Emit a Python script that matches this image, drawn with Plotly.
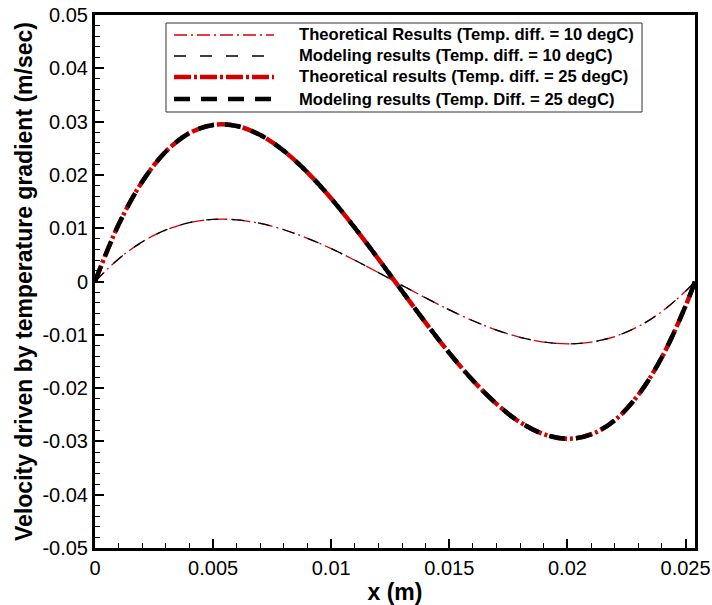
import plotly.graph_objects as go

# x positions (m)
x_vals = [0.0, 0.001, 0.002, 0.003, 0.004, 0.005, 0.006, 0.007, 0.008, 0.009,
          0.010, 0.011, 0.012, 0.013, 0.014, 0.015, 0.016, 0.017, 0.018, 0.019,
          0.020, 0.021, 0.022, 0.023, 0.024, 0.025, 0.0254]

# Temp diff = 10 degC
theory_10 = [0.0, 0.00424, 0.00743, 0.00967, 0.01105, 0.01165, 0.01157, 0.01089, 0.00971, 0.00810,
             0.00617, 0.00399, 0.00167, -0.00072, -0.00308, -0.00532, -0.00736, -0.00911, -0.01047, -0.01137,
             -0.01170, -0.01138, -0.01032, -0.00844, -0.00563, -0.00182, 0.0]
model_10 = [0.0, 0.00424, 0.00743, 0.00967, 0.01105, 0.01165, 0.01157, 0.01089, 0.00971, 0.00810,
            0.00617, 0.00399, 0.00167, -0.00072, -0.00308, -0.00532, -0.00736, -0.00911, -0.01047, -0.01137,
            -0.01170, -0.01138, -0.01032, -0.00844, -0.00563, -0.00182, 0.0]

# Temp diff = 25 degC
theory_25 = [0.0, 0.01068, 0.01873, 0.02439, 0.02786, 0.02938, 0.02918, 0.02747, 0.02448, 0.02043,
             0.01556, 0.01007, 0.00421, -0.00181, -0.00776, -0.01342, -0.01857, -0.02297, -0.02641, -0.02866,
             -0.02950, -0.02869, -0.02603, -0.02127, -0.01420, -0.00460, 0.0]
model_25 = [0.0, 0.01068, 0.01873, 0.02439, 0.02786, 0.02938, 0.02918, 0.02747, 0.02448, 0.02043,
            0.01556, 0.01007, 0.00421, -0.00181, -0.00776, -0.01342, -0.01857, -0.02297, -0.02641, -0.02866,
            -0.02950, -0.02869, -0.02603, -0.02127, -0.01420, -0.00460, 0.0]

series_names = ["Theoretical Results (Temp. diff. = 10 degC)",
                "Modeling results (Temp. diff. = 10 degC)",
                "Theoretical results (Temp. diff. = 25 degC)",
                "Modeling results (Temp. Diff. = 25 degC)"]

x_tickvals = [0, 0.005, 0.01, 0.015, 0.02, 0.025]
x_ticktext = ["0", "0.005", "0.01", "0.015", "0.02", "0.025"]
y_tickvals = [-0.05, -0.04, -0.03, -0.02, -0.01, 0, 0.01, 0.02, 0.03, 0.04, 0.05]
y_ticktext = ["-0.05", "-0.04", "-0.03", "-0.02", "-0.01", "0", "0.01", "0.02", "0.03", "0.04", "0.05"]

FONT = "Arial, Liberation Sans, sans-serif"
styles = [
    dict(color="#d40000", width=1.3, dash="13px,4px,2px,4px"),
    dict(color="black", width=1.3, dash="12px,14px"),
    dict(color="#d40000", width=4.5, dash="17px,3px,3px,3px"),
    dict(color="black", width=4.5, dash="16px,11px"),
]
data_sets = [theory_10, model_10, theory_25, model_25]

fig = go.Figure()
for name, ys, st in zip(series_names, data_sets, styles):
    fig.add_trace(go.Scatter(x=x_vals, y=ys, mode="lines", name=name,
                             line=dict(shape="spline", **st), showlegend=False))

# plot area in pixels
W, H = 712, 605
L, R, T, B = 95, 695, 15, 548

def px(xp):
    return (xp - L) / (R - L)

def py(yp):
    return (B - yp) / (B - T)

shapes = [dict(type="rect", xref="paper", yref="paper",
               x0=px(166), x1=px(642), y0=py(112), y1=py(23),
               line=dict(color="#333", width=1), fillcolor="white", layer="above")]
annotations = []
rows = [35, 56, 77, 99]
for name, st, yr in zip(series_names, styles, rows):
    shapes.append(dict(type="line", xref="paper", yref="paper",
                       x0=px(174), x1=px(274), y0=py(yr), y1=py(yr),
                       line=dict(color=st["color"], width=st["width"], dash=st["dash"]), layer="above"))
    annotations.append(dict(xref="paper", yref="paper", x=px(297), y=py(yr),
                            xanchor="left", yanchor="middle", showarrow=False,
                            text="<b>" + name + "</b>",
                            font=dict(family=FONT, size=16.6, color="black")))

fig.update_layout(
    width=W, height=H,
    margin=dict(l=L, r=W - R, t=T, b=H - B, autoexpand=False),
    plot_bgcolor="white", paper_bgcolor="white",
    font=dict(family=FONT, color="black"),
    shapes=shapes, annotations=annotations,
    showlegend=False,
)
fig.update_xaxes(range=[0, 0.0254], tickmode="array", tickvals=x_tickvals, ticktext=x_ticktext,
                 ticks="inside", ticklen=9, tickwidth=2, tickcolor="black",
                 showline=True, linecolor="black", linewidth=3, mirror=True,
                 showgrid=False, zeroline=False, automargin=False,
                 tickfont=dict(family=FONT, size=20),
                 minor=dict(ticks="inside", ticklen=5, tickwidth=1, tickcolor="black",
                            tickmode="linear", tick0=0, dtick=0.001, showgrid=False),
                 title=dict(text="<b>x (m)</b>", font=dict(family=FONT, size=23), standoff=10))
fig.update_yaxes(range=[-0.05, 0.05], tickmode="array", tickvals=y_tickvals, ticktext=y_ticktext,
                 ticks="inside", ticklen=9, tickwidth=2, tickcolor="black",
                 showline=True, linecolor="black", linewidth=3, mirror=True,
                 showgrid=False, zeroline=False, automargin=False,
                 tickfont=dict(family=FONT, size=20),
                 minor=dict(ticks="inside", ticklen=5, tickwidth=1, tickcolor="black",
                            tickmode="linear", tick0=0, dtick=0.002, showgrid=False),
                 title=dict(text="<b>Velocity driven by temperature gradient (m/sec)</b>",
                            font=dict(family=FONT, size=23), standoff=4))

fig.write_html("out.html")
